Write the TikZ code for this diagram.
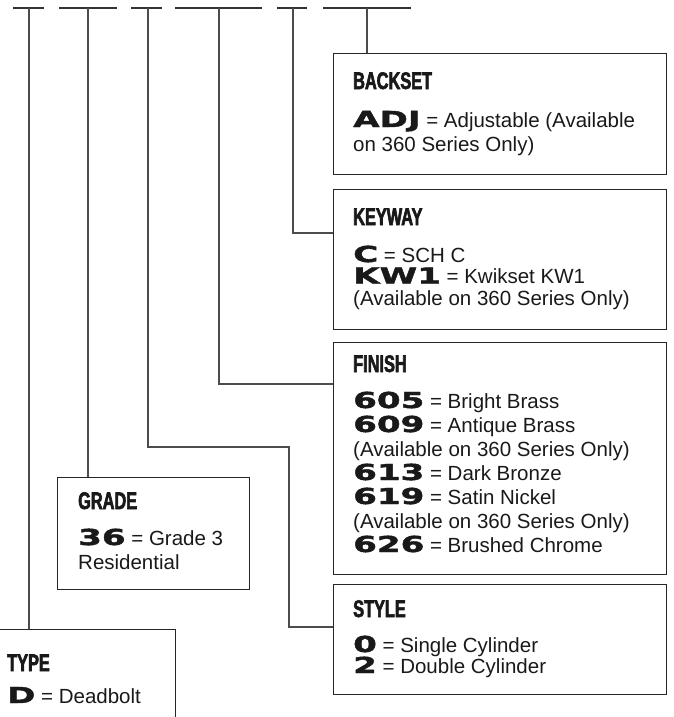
\documentclass[tikz,border=0pt]{standalone}
\usepackage{fontspec}
\setmainfont{Liberation Sans}
\newfontfamily\headfont[FakeStretch=0.68,FakeBold=2.5]{Liberation Sans}
\newfontfamily\codefont[FakeStretch=1.55,FakeBold=2]{DejaVu Sans}
\newcommand\code[1]{{\codefont\bfseries\fontsize{22}{22}\selectfont #1}}
\tikzset{
  box/.style={draw=black!85, line width=1.2pt, anchor=north west, inner sep=0pt},
  conn/.style={draw=black!70, line width=1.3pt},
  seg/.style={draw=black!80, line width=1.3pt},
  txt/.style={anchor=base west, inner sep=0pt, text=black!90, font=\fontsize{20.5}{22}\selectfont},
  head/.style={anchor=base west, inner sep=0pt, text=black!90, font=\headfont\bfseries\fontsize{24}{24}\selectfont},
}
\begin{document}
\begin{tikzpicture}[x=1pt,y=-1pt]
\useasboundingbox (0,0) rectangle (674,717);
\clip (0,0) rectangle (674,717);
% top segments
\foreach \a/\b in {13/44,59/117,131/162,175/262,277/307,323/411}
  \draw[seg] (\a,8) -- (\b,8);
\coordinate (t1) at (29,8);
\coordinate (t2) at (88,8);
\coordinate (t3) at (148,8);
\coordinate (t4) at (219,8);
\coordinate (t5) at (293,8);
\coordinate (t6) at (367,8);
% boxes
\node[box, minimum width=333pt, minimum height=121pt] (backset) at (333,53) {};
\node[box, minimum width=333pt, minimum height=140pt] (keyway) at (333,189) {};
\node[box, minimum width=333pt, minimum height=232pt] (finish) at (333,342) {};
\node[box, minimum width=333pt, minimum height=110pt] (style) at (333,584) {};
\node[box, minimum width=192pt, minimum height=112pt] (grade) at (57,477) {};
\node[box, minimum width=188pt, minimum height=130pt] (type) at (-13,629) {};
% connectors
\coordinate (s1) at (148,447);
\coordinate (s2) at (289,447);
\coordinate (s3) at (289,627);
\coordinate (f1) at (219,384);
\coordinate (k1) at (293,233);
\draw[conn] (t1) -- (t1 |- type.north);
\draw[conn] (t2) -- (t2 |- grade.north);
\draw[conn] (t3) -- (s1) -- (s2) -- (s3) -- (s3 -| style.west);
\draw[conn] (t4) -- (f1) -- (f1 -| finish.west);
\draw[conn] (t5) -- (k1) -- (k1 -| keyway.west);
\draw[conn] (t6) -- (t6 |- backset.north);
% BACKSET
\node[head] (bh) at (353,89) {BACKSET};
\node[txt] (b1) at (353,127) {\code{ADJ} = Adjustable (Available};
\node[txt] (b2) at (353,151) {on 360 Series Only)};
% KEYWAY
\node[head] (kh) at (353,225) {KEYWAY};
\node[txt] (k2) at (353,262) {\code{C} = SCH C};
\node[txt] (k3) at (353,283.5) {\code{KW1} = Kwikset KW1};
\node[txt] (k4) at (353,305) {(Available on 360 Series Only)};
% FINISH
\node[head] (fh) at (353,372) {FINISH};
\node[txt] (f2) at (353,408) {\code{605} = Bright Brass};
\node[txt] (f3) at (353,432) {\code{609} = Antique Brass};
\node[txt] (f4) at (353,456) {(Available on 360 Series Only)};
\node[txt] (f5) at (353,480) {\code{613} = Dark Bronze};
\node[txt] (f6) at (353,504) {\code{619} = Satin Nickel};
\node[txt] (f7) at (353,528) {(Available on 360 Series Only)};
\node[txt] (f8) at (353,552) {\code{626} = Brushed Chrome};
% STYLE
\node[head] (sh) at (353,617) {STYLE};
\node[txt] (s4) at (353,652) {\code{0} = Single Cylinder};
\node[txt] (s5) at (353,673) {\code{2} = Double Cylinder};
% GRADE
\node[head] (gh) at (78,509) {GRADE};
\node[txt] (g1) at (78,545) {\code{36} = Grade 3};
\node[txt] (g2) at (78,569) {Residential};
% TYPE
\node[head] (th) at (7,671) {TYPE};
\node[txt] (ty1) at (7,703) {\code{D} = Deadbolt};
\end{tikzpicture}
\end{document}
